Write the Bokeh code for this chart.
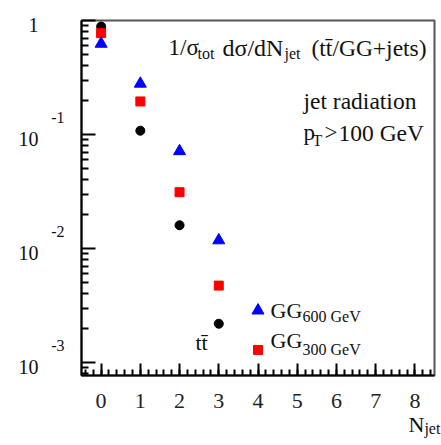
import math
from bokeh.plotting import figure
from bokeh.models import Range1d, FixedTicker, Label, LogAxis, LinearAxis, LogScale
from bokeh.embed import file_html
from bokeh.resources import INLINE

# ---- data ----
njet_tt = [0, 1, 2, 3]
frac_tt = [0.885, 0.108, 0.0160, 0.00219]
njet_gg300 = [0, 1, 2, 3, 4]
frac_gg300 = [0.774, 0.195, 0.0312, 0.00473, 0.00129]
njet_gg600 = [0, 1, 2, 3, 4]
frac_gg600 = [0.625, 0.279, 0.0714, 0.0118, 0.00286]

x_ticks = [0, 1, 2, 3, 4, 5, 6, 7, 8]
y_decades = [1e-3, 1e-2, 1e-1, 1.0]
y_mantissa = ["10", "10", "10", "1"]
y_exponents = ["-3", "-2", "-1"]

FONT = "Liberation Serif"
TXT = "#111111"
XLO, XHI = -0.5, 8.5
YLO, YHI = 7.7e-4, 1.0
FRAME_W, FRAME_H = 353, 355
XPX = FRAME_W / (XHI - XLO)               # pixels per unit of N_jet
DPX = FRAME_H / math.log10(YHI / YLO)     # pixels per decade

p = figure(width=441, height=445,
           x_range=Range1d(XLO, XHI), y_range=Range1d(YLO, YHI),
           y_axis_type="log", output_backend="svg", toolbar_location=None,
           min_border_left=81, min_border_right=7, min_border_top=20,
           min_border_bottom=70)
p.grid.visible = False
p.outline_line_color = "#555555"
p.outline_line_width = 2
p.background_fill_color = "white"
p.border_fill_color = "white"

# ---- x axis ----
xa = p.xaxis[0]
xa.ticker = FixedTicker(ticks=x_ticks,
                        minor_ticks=[round(-0.4 + 0.2 * i, 2) for i in range(45)])
xa.axis_line_color = "black"
xa.axis_line_width = 2
xa.major_tick_in = 12
xa.major_tick_out = 0
xa.minor_tick_in = 6
xa.minor_tick_out = 0
xa.major_tick_line_width = 2
xa.minor_tick_line_width = 2
xa.major_label_text_font = FONT
xa.major_label_text_font_size = "22px"
xa.major_label_text_color = "#222222"
xa.major_label_standoff = 18


def text_axis(pos, text, size, standoff):
    kw = dict(ticker=FixedTicker(ticks=[pos], minor_ticks=[]),
              major_label_overrides={pos: text},
              axis_line_color=None, major_tick_line_color=None,
              minor_tick_line_color=None, major_tick_in=0, major_tick_out=0,
              minor_tick_in=0, minor_tick_out=0,
              major_label_text_font=FONT, major_label_text_font_size=size,
              major_label_text_color=TXT)
    try:
        return LinearAxis(major_label_standoff=standoff, **kw)
    except Exception:
        return LinearAxis(major_label_standoff=0, **kw)

# x axis title "N" with subscript "jet"
n_pos = x_ticks[-1] + 1.5 / XPX
jet_pos = x_ticks[-1] + 17.5 / XPX
p.add_layout(text_axis(n_pos, "N", "22px", 1), "below")
p.add_layout(text_axis(jet_pos, "jet", "16px", -20), "below")

# ---- y axis (ticks only) ----
ya = p.yaxis[0]
minor = [k * d for d in [1e-4, 1e-3, 1e-2, 1e-1] for k in range(2, 10)]
ya.ticker = FixedTicker(ticks=y_decades, minor_ticks=minor)
ya.axis_line_color = "black"
ya.axis_line_width = 2
ya.major_tick_in = 14
ya.major_tick_out = 0
ya.minor_tick_in = 7
ya.minor_tick_out = 0
ya.major_tick_line_width = 2
ya.minor_tick_line_width = 2
ya.major_label_text_font_size = "1px"
ya.major_label_text_color = None
ya.major_label_standoff = 0

# tick labels "10" and raised exponents, on ranges shifted by a few pixels
up = 10 ** (-17 / DPX)
dn = 10 ** (4 / DPX)
p.extra_y_ranges = {"exp": Range1d(YLO * up, YHI * up),
                    "man": Range1d(YLO * dn, YHI * dn)}
p.extra_y_scales = {"exp": LogScale(), "man": LogScale()}

def hidden_axis(rng, ticks, labels, size, standoff):
    return LogAxis(y_range_name=rng,
                   ticker=FixedTicker(ticks=ticks, minor_ticks=[]),
                   major_label_overrides=dict(zip(ticks, labels)),
                   axis_line_color=None, major_tick_line_color=None,
                   minor_tick_line_color=None, major_tick_in=0, major_tick_out=0,
                   minor_tick_in=0, minor_tick_out=0,
                   major_label_standoff=standoff, major_label_text_font=FONT,
                   major_label_text_font_size=size, major_label_text_color=TXT)

p.add_layout(hidden_axis("exp", y_decades[:3], y_exponents, "16px", 17), "left")
p.add_layout(hidden_axis("man", y_decades, y_mantissa, "20px", 10), "left")

# ---- data points ----
p.scatter(njet_tt, frac_tt, marker="circle", size=9, color="black")
p.scatter(njet_gg300, frac_gg300, marker="square", size=9, color="#ff0000")
p.scatter(njet_gg600, frac_gg600, marker="triangle", size=12, color="#0000ff")

def lab(text, x, y, size, **kw):
    p.add_layout(Label(text=text, x=x, y=y, x_units="screen", y_units="screen",
                       text_font=FONT, text_font_size=size, text_color=TXT,
                       text_baseline="alphabetic", **kw))

# title text
lab("1/\u03c3", 87, 328, "23px")
lab("tot", 116, 322, "16px")
lab("d\u03c3/dN", 141, 328, "24px")
lab("jet", 203, 322, "16px")
lab("(tt\u0304/GG+jets)", 230, 328, "23.5px")
lab("jet radiation", 222, 275, "23.5px")
lab("p", 222, 243, "23px")
lab("T", 231, 235, "16px")
lab(">", 243, 243, "23px")
lab("100 GeV", 257, 243, "23.5px")

# series labels
lab("GG", 189, 65, "22px")
lab("600 GeV", 221, 59, "16px")
lab("GG", 189, 35, "22px")
lab("300 GeV", 221, 26, "16px")
lab("tt\u0304", 114, 33, "22px")

open("out.html", "w").write(file_html(p, INLINE))
